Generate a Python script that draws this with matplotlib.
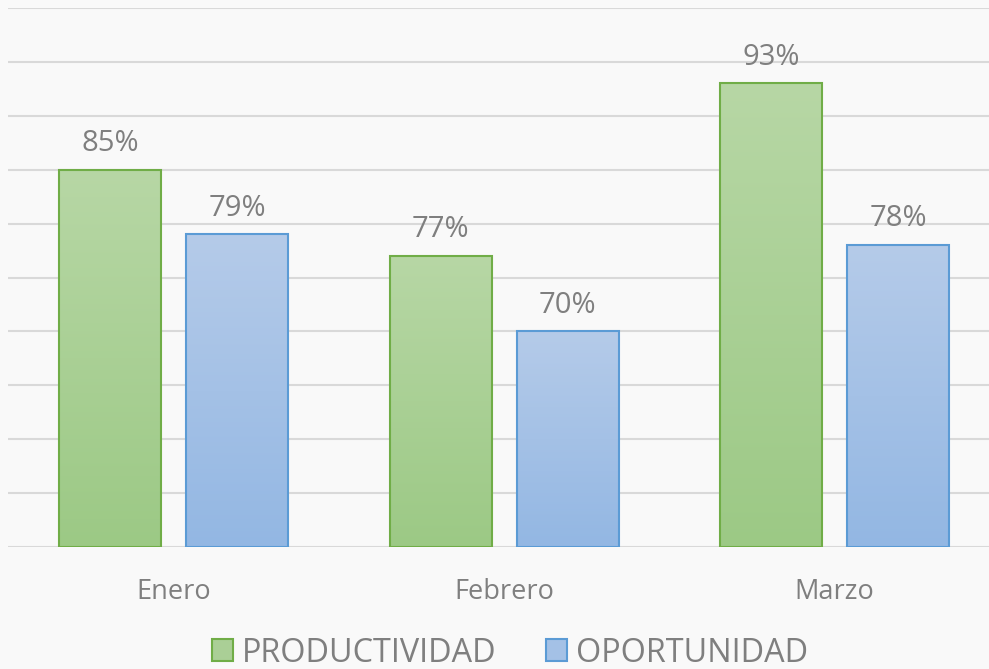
import matplotlib
matplotlib.use("Agg")
import matplotlib.pyplot as plt
import numpy as np
from matplotlib.colors import LinearSegmentedColormap
from matplotlib.patches import Patch

plt.rcParams['font.family'] = ['Open Sans', 'DejaVu Sans']

meses = ['Enero', 'Febrero', 'Marzo']
productividad = [85, 77, 93]
oportunidad = [79, 70, 78]
series = ['PRODUCTIVIDAD', 'OPORTUNIDAD']

txt_color = '#7f7f7f'
bg = '#f9f9f9'
green_top, green_bot, green_edge = '#b7d7a5', '#9cc985', '#70ad47'
blue_top, blue_bot, blue_edge = '#b5cbe9', '#93b7e3', '#5b9bd5'

fig = plt.figure(figsize=(9.89, 6.69), dpi=100, facecolor=bg)
ax = fig.add_axes([8 / 989, 1 - 547 / 669, 981 / 989, 539 / 669])
ax.set_facecolor(bg)

ymin, ymax = 50, 100
x = np.arange(len(meses))
w = 0.3086
off = 0.192


def grad_bar(xc, h, ctop, cbot, cedge):
    cmap = LinearSegmentedColormap.from_list('g', [cbot, ctop])
    grad = np.linspace(0, 1, 256).reshape(-1, 1)
    ax.imshow(grad, cmap=cmap, origin='lower', aspect='auto',
              extent=[xc - w / 2, xc + w / 2, ymin, h], zorder=2)
    ax.bar(xc, h - ymin, bottom=ymin, width=w, facecolor='none',
           edgecolor=cedge, linewidth=1.5, zorder=3)
    ax.annotate(f'{h}%', (xc, h), xytext=(0, 13.5), textcoords='offset points',
                ha='center', va='baseline', fontsize=21, color=txt_color)


for i in range(len(meses)):
    grad_bar(x[i] - off, productividad[i], green_top, green_bot, green_edge)
    grad_bar(x[i] + off, oportunidad[i], blue_top, blue_bot, blue_edge)
    ax.text(x[i], -0.0965, meses[i], transform=ax.get_xaxis_transform(),
            ha='center', va='baseline', fontsize=19.5, color=txt_color)

ax.set_xlim(-0.5008, 2.467)
ax.set_ylim(ymin, ymax)
ax.set_yticks(np.arange(50, 101, 5))
ax.grid(axis='y', color='#d9d9d9', linewidth=1.5, zorder=0)
ax.set_axisbelow(True)
ax.tick_params(left=False, bottom=False, labelleft=False, labelbottom=False)
for s in ax.spines.values():
    s.set_visible(False)

handles = [Patch(facecolor='#aacf96', edgecolor=green_edge, linewidth=1.5),
           Patch(facecolor='#a4c1e6', edgecolor=blue_edge, linewidth=1.5)]
fig.legend(handles, series, loc='center', bbox_to_anchor=(510 / 989, 1 - 653 / 669),
           ncol=2, frameon=False, fontsize=23.3, labelcolor=txt_color,
           handlelength=0.65, handleheight=0.65, handletextpad=0.3, columnspacing=1.5)

fig.savefig('out.png', dpi=100, facecolor=bg)
